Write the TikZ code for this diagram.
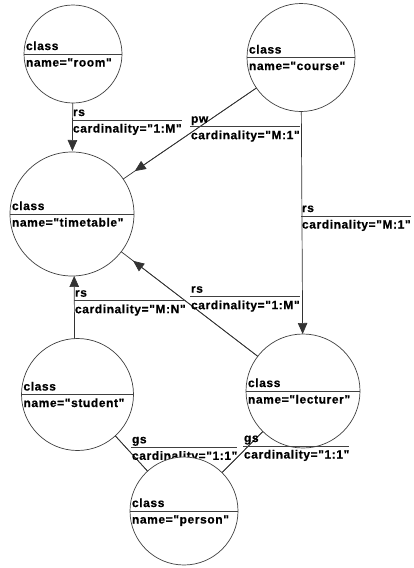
\documentclass[tikz,border=0pt]{standalone}
\usepackage{fontspec}
\setmainfont{Liberation Sans}[LetterSpace=5, Ligatures=TeXOff,
  BoldFont={Liberation Sans Bold}, BoldFeatures={FakeBold=0.6}]
\usetikzlibrary{arrows.meta}

% relation label: name, x, y of the underline, upper text, lower text
\newcommand{\rellabel}[5]{%
  \coordinate (#1s) at (#2,#3);
  \node[txt] (#1t) at (#2+1,#3-4) {#4};
  \node[txt] (#1b) at (#2+1,#3+12.5) {#5};
  \draw[underl] (#1s) -- (#1s -| #1b.east);
}
% class circle: name, centre x, centre y, diameter, class name
\newcommand{\classnode}[5]{%
  \node[cls, minimum size=#4] (#1) at (#2,#3) {};
  \draw[chord] (#1.west) -- (#1.east);
  \node[txt] (#1k) at ([xshift=2pt,yshift=4pt]#1.west) {class};
  \node[txt] (#1n) at ([xshift=2pt,yshift=-12.5pt]#1.west) {name="#5"};
}

\begin{document}
\begin{tikzpicture}[x=1pt,y=-1pt,
  every node/.style={inner sep=0pt, outer sep=0pt},
  txt/.style={anchor=base west, font=\bfseries\fontsize{12}{14}\selectfont},
  cls/.style={circle, draw=black!75, line width=0.7pt, fill=white},
  chord/.style={draw=black!75, line width=0.7pt},
  underl/.style={draw=black!75, line width=0.7pt},
  link/.style={draw=black!80, line width=0.7pt},
  headat/.style={-{Triangle[length=11pt,width=9.5pt]}, shorten >=#1}
]
\useasboundingbox (0,0) rectangle (414,568);

% classes
\classnode{room}{73}{54}{98}{room}
\classnode{course}{301}{57.5}{108}{course}
\classnode{timetable}{72}{214}{124}{timetable}
\classnode{student}{77.5}{394.5}{112}{student}
\classnode{lecturer}{303}{391}{114}{lecturer}

% relations
\draw[link, headat=1pt] (room) -- (timetable);
\draw[link] (course) -- (timetable);
\draw[link, headat=14pt] (course) -- (timetable);
\draw[link, headat=0pt] (course) -- (lecturer);
\draw[link] (lecturer) -- (timetable);
\draw[link, headat=15pt] (lecturer) -- (timetable);
\draw[link, headat=0pt] (student.93) -- (timetable.272);
\coordinate (pc) at (184,511);
\draw[link] (student) -- (pc);
\draw[link, headat=22pt] (student) -- (pc);
\draw[link] (lecturer) -- (pc);
\draw[link, headat=24pt] (lecturer) -- (pc);

% relation labels
\rellabel{la}{72}{120}{rs}{cardinality="1:M"}
\rellabel{lb}{190}{126.7}{pw}{cardinality="M:1"}
\rellabel{lc}{301}{216}{rs}{cardinality="M:1"}
\rellabel{ld}{190}{296.7}{rs}{cardinality="1:M"}
\rellabel{le}{74}{300.7}{rs}{cardinality="M:N"}
\rellabel{lf}{131}{447.3}{gs}{cardinality="1:1"}
\rellabel{lg}{243}{446}{gs}{cardinality="1:1"}

% the person class lies over the lower label
\classnode{person}{184}{511}{108}{person}
\end{tikzpicture}
\end{document}
